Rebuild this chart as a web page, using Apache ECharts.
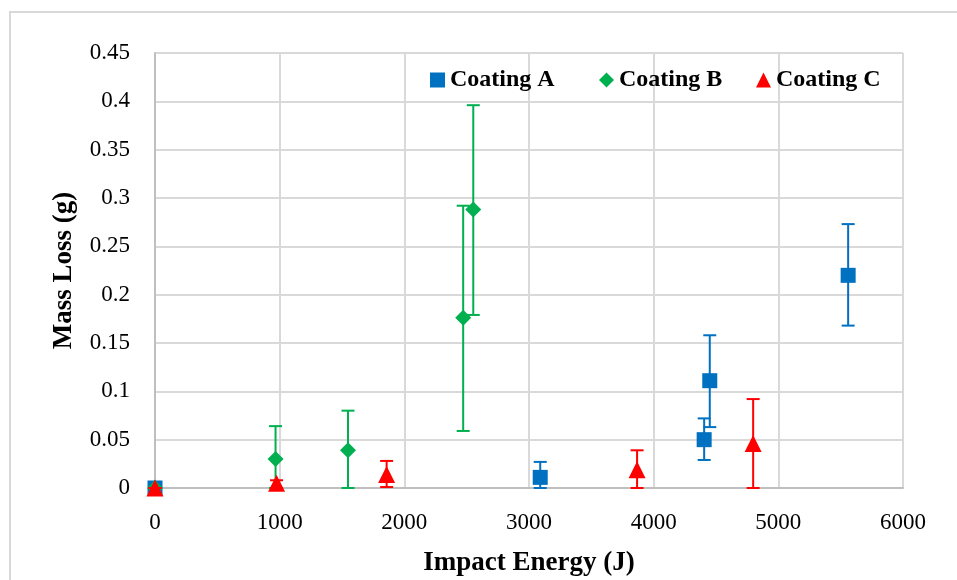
<!DOCTYPE html>
<html>
<head>
<meta charset="utf-8">
<script src="https://cdn.jsdelivr.net/npm/echarts@6/dist/echarts.min.js"></script>
<style>
html,body{margin:0;padding:0;background:#fff}
#chart{width:957px;height:580px}
</style>
</head>
<body>
<div id="chart"></div>
<script>
// Coating A
var aX = [0, 3090, 4405, 4450, 5560]
var aY = [0, 0.011, 0.050, 0.111, 0.220]
var aLo = [0, 0, 0.029, 0.063, 0.168]
var aHi = [0, 0.027, 0.072, 0.158, 0.273]
// Coating B
var bX = [0, 967, 1548, 2472, 2553]
var bY = [0, 0.030, 0.039, 0.176, 0.288]
var bLo = [0, 0, 0, 0.059, 0.179]
var bHi = [0, 0.064, 0.080, 0.292, 0.396]
// Coating C
var cX = [0, 975, 1858, 3867, 4798]
var cY = [0, 0.005, 0.014, 0.019, 0.046]
var cLo = [0, 0, 0.001, 0, 0]
var cHi = [0, 0.008, 0.028, 0.039, 0.092]

var names = ['Coating A', 'Coating B', 'Coating C']
var colors = ['#0070C0', '#00B050', '#FF0000']
var symbols = ['rect', 'diamond', 'triangle']
var font = '"Liberation Serif", "DejaVu Serif", serif'

function pts(x, y){
	var out = []
	for (var i = 0; i < x.length; i++) out.push([x[i], y[i]])
	return out
}
function bars(x, lo, hi){
	var out = []
	for (var i = 0; i < x.length; i++) out.push([x[i], lo[i], hi[i]])
	return out
}
function errBar(color){
	return function(params, api){
		var x = api.value(0)
		var top = api.coord([x, api.value(2)])
		var bot = api.coord([x, api.value(1)])
		var w = 6.5
		var st = {stroke: color, lineWidth: 2}
		return {type: 'group', children: [
			{type: 'line', shape: {x1: top[0], y1: top[1], x2: bot[0], y2: bot[1]}, style: st},
			{type: 'line', shape: {x1: top[0] - w, y1: top[1], x2: top[0] + w, y2: top[1]}, style: st},
			{type: 'line', shape: {x1: bot[0] - w, y1: bot[1], x2: bot[0] + w, y2: bot[1]}, style: st}
		]}
	}
}

var xs = [aX, bX, cX], ys = [aY, bY, cY], los = [aLo, bLo, cLo], his = [aHi, bHi, cHi]
var series = []
for (var k = 0; k < 3; k++) {
	series.push({
		type: 'custom', name: names[k], renderItem: errBar(colors[k]),
		data: bars(xs[k], los[k], his[k]), z: 2 + k * 2, silent: true,
		itemStyle: {color: colors[k]}
	})
	series.push({
		type: 'scatter', name: names[k], symbol: symbols[k],
		symbolSize: k == 0 ? 15 : (k == 1 ? 16 : 17),
		data: pts(xs[k], ys[k]), z: 3 + k * 2,
		itemStyle: {color: colors[k], opacity: 1}
	})
}

var legendLeft = [425, 594, 751]
var legends = []
for (var k = 0; k < 3; k++) {
	legends.push({
		left: legendLeft[k], top: 63, data: [{name: names[k], icon: symbols[k]}],
		itemWidth: 15, itemHeight: 15, itemGap: 0,
		textStyle: {fontFamily: font, fontWeight: 'bold', fontSize: 24, color: '#000'}
	})
}

var myChart = echarts.init(document.getElementById('chart'))
var option = {
	animation: false,
	graphic: [{
		type: 'rect', shape: {x: 10, y: 12, width: 980, height: 620},
		style: {fill: 'none', stroke: '#d9d9d9', lineWidth: 2}, silent: true
	}],
	legend: legends,
	grid: {left: 155, right: 54, top: 53, bottom: 92, outerBoundsMode: 'none', containLabel: false},
	xAxis: {
		type: 'value', min: 0, max: 6000, interval: 1000,
		name: 'Impact Energy (J)', nameLocation: 'middle', nameGap: 62,
		nameTextStyle: {fontFamily: font, fontWeight: 'bold', fontSize: 27, color: '#000'},
		axisLine: {show: true, lineStyle: {color: '#bfbfbf', width: 2}},
		axisTick: {show: false},
		axisLabel: {fontFamily: font, fontSize: 23, color: '#000', margin: 23, formatter: function(v){ return String(v) }},
		splitLine: {show: true, lineStyle: {color: '#d9d9d9', width: 2}}
	},
	yAxis: {
		type: 'value', min: 0, max: 0.45, interval: 0.05,
		name: 'Mass Loss (g)', nameLocation: 'middle', nameGap: 77,
		nameTextStyle: {fontFamily: font, fontWeight: 'bold', fontSize: 27, color: '#000'},
		axisLine: {show: true, lineStyle: {color: '#bfbfbf', width: 2}},
		axisTick: {show: false},
		axisLabel: {fontFamily: font, fontSize: 23, color: '#000', margin: 25},
		splitLine: {show: true, lineStyle: {color: '#d9d9d9', width: 2}}
	},
	series: series
}
myChart.setOption(option)
</script>
</body>
</html>
